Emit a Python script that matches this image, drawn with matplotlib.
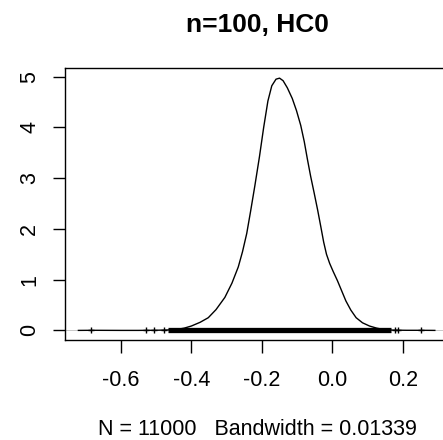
import numpy as np
import matplotlib
matplotlib.use("Agg")
import matplotlib.pyplot as plt

# density curve
dens_x = [-0.72, -0.68, -0.60, -0.55, -0.50, -0.47, -0.44, -0.42, -0.40, -0.375,
          -0.352, -0.33, -0.305, -0.285, -0.267, -0.255, -0.243, -0.232, -0.220,
          -0.207, -0.195, -0.183, -0.172, -0.160, -0.150, -0.140, -0.128, -0.114,
          -0.102, -0.090, -0.080, -0.071, -0.062, -0.052, -0.042, -0.033, -0.025,
          -0.017, -0.008, 0.002, 0.014, 0.026, 0.038, 0.052, 0.067, 0.085, 0.105,
          0.125, 0.143, 0.17, 0.21, 0.25, 0.29]
dens_y = [0.0, 0.002, 0.0, 0.0, 0.003, 0.008, 0.02, 0.045, 0.086, 0.16,
          0.25, 0.41, 0.65, 0.93, 1.25, 1.55, 1.91, 2.35, 2.85,
          3.42, 4.0, 4.52, 4.82, 4.95, 4.97, 4.92, 4.78, 4.57,
          4.33, 4.04, 3.72, 3.37, 3.04, 2.71, 2.37, 2.04, 1.74,
          1.50, 1.32, 1.16, 0.98, 0.78, 0.58, 0.40, 0.25, 0.15, 0.086,
          0.045, 0.02, 0.006, 0.002, 0.002, 0.0]

# rug: solid band plus the isolated points at the tails
rug_band = [-0.467, 0.165]
rug_points = [-0.684, -0.529, -0.505, -0.478, 0.176, 0.186, 0.25]

x_ticks = [-0.6, -0.4, -0.2, 0.0, 0.2]
x_tick_labels = ["-0.6", "-0.4", "-0.2", "0.0", "0.2"]
y_ticks = [0, 1, 2, 3, 4, 5]

title = "n=100, HC0"
xlabel = "N = 11000   Bandwidth = 0.01339"

plt.rcParams["font.family"] = ["Liberation Sans", "DejaVu Sans"]

W, H = 443, 440
fig = plt.figure(figsize=(W / 100, H / 100), dpi=100)
# plot region runs off the right edge like the original crop
ax = fig.add_axes([65 / W, 1 - 340.5 / H, (450 - 65) / W, (340.5 - 68) / H])

ax.axhline(0, color="#bebebe", linewidth=0.6, zorder=1)
ax.plot(dens_x, dens_y, color="black", linewidth=1.0, zorder=3)
ax.hlines(0, rug_band[0], rug_band[1], color="black", linewidth=3.8, zorder=2)
ax.plot(rug_points, [0] * len(rug_points), linestyle="none", marker="+",
        markersize=5, markeredgewidth=1.0, color="black", zorder=2)

ax.set_xlim(-0.758, 0.333)
ax.set_ylim(-0.199, 5.17)

ax.set_xticks(x_ticks)
ax.set_xticklabels(x_tick_labels)
ax.set_yticks(y_ticks)
ax.set_yticklabels([str(v) for v in y_ticks], rotation=90, va="center")
ax.tick_params(axis="both", direction="out", length=9, width=1.0,
               labelsize=15.5, colors="black", pad=9)
ax.tick_params(axis="x", pad=12)

for s in ax.spines.values():
    s.set_linewidth(1.0)
    s.set_color("black")

fig.text(0.5813, 1 - 32 / H, title, ha="center", va="baseline",
         fontsize=19, fontweight="bold")
fig.text(0.5813, 1 - 435 / H, xlabel, ha="center", va="baseline",
         fontsize=15.5)

fig.savefig("out.png", dpi=100)
